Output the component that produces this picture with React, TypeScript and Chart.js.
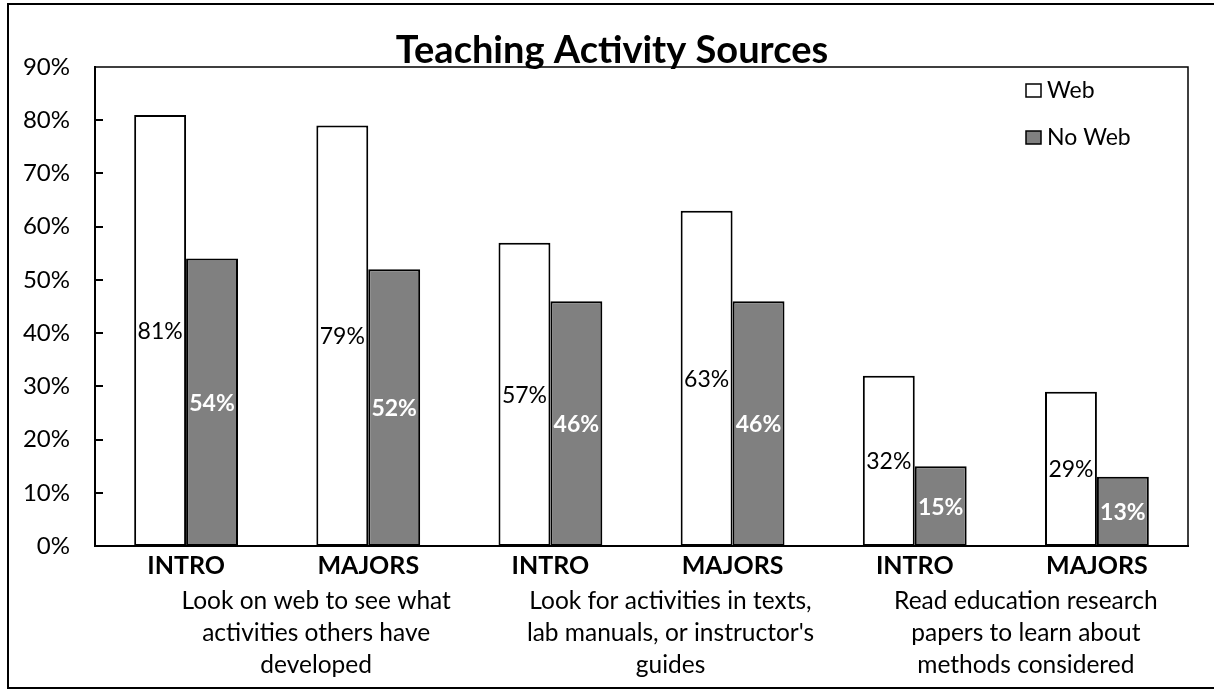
import React, { useEffect, useRef } from "react";
import { Chart, registerables } from "chart.js";

Chart.register(...registerables);

const TITLE = "Teaching Activity Sources";
const CATEGORIES = ["INTRO", "MAJORS", "INTRO", "MAJORS", "INTRO", "MAJORS"];
const SERIES_NAMES = ["Web", "No Web"];
const WEB = [81, 79, 57, 63, 32, 29];
const NO_WEB = [54, 52, 46, 46, 15, 13];
const GROUP_LABELS = [
  ["Look on web to see what", "activities others have", "developed"],
  ["Look for activities in texts,", "lab manuals, or instructor's", "guides"],
  ["Read education research", "papers to learn about", "methods considered"],
];
const Y_MIN = 0;
const Y_MAX = 90;
const Y_STEP = 10;

const FONT = "Lato, 'Open Sans', sans-serif";
const W = 1214;
const H = 690;
const GROUP_SHIFT = [39, 29, 20];

const decorPlugin = {
  id: "decor",
  beforeDraw(chart: any) {
    const ctx = chart.ctx;
    ctx.save();
    ctx.fillStyle = "#ffffff";
    ctx.fillRect(0, 0, chart.width, chart.height);
    ctx.strokeStyle = "#000";
    ctx.lineWidth = 2;
    ctx.strokeRect(8, 4, chart.width + 20, 684);
    ctx.restore();
  },
  afterDatasetsDraw(chart: any) {
    const ctx = chart.ctx;
    ctx.save();
    ctx.textAlign = "center";
    ctx.textBaseline = "middle";
    chart.data.datasets.forEach((ds: any, i: number) => {
      const meta = chart.getDatasetMeta(i);
      meta.data.forEach((bar: any, j: number) => {
        const v = ds.data[j];
        const cy = (bar.y + bar.base) / 2;
        if (i === 0) {
          ctx.fillStyle = "#000";
          ctx.font = `23px ${FONT}`;
        } else {
          ctx.fillStyle = "#fff";
          ctx.font = `bold 23px ${FONT}`;
        }
        ctx.fillText(`${v}%`, bar.x, cy + 1);
      });
    });
    ctx.restore();
  },
  afterDraw(chart: any) {
    const ctx = chart.ctx;
    const a = chart.chartArea;
    const ys = chart.scales.y;
    const xs = chart.scales.x;
    ctx.save();
    // plot border top & right
    ctx.strokeStyle = "#000";
    ctx.lineWidth = 1.5;
    ctx.beginPath();
    ctx.moveTo(a.left, a.top);
    ctx.lineTo(a.right, a.top);
    ctx.lineTo(a.right, a.bottom);
    ctx.stroke();
    // inner tick marks
    ctx.lineWidth = 2;
    for (let v = Y_MIN + Y_STEP; v < Y_MAX; v += Y_STEP) {
      const y = Math.round(ys.getPixelForValue(v));
      ctx.beginPath();
      ctx.moveTo(a.left, y);
      ctx.lineTo(a.left + 8, y);
      ctx.stroke();
    }
    // title
    ctx.fillStyle = "#000";
    ctx.font = `bold 38px ${FONT}`;
    ctx.textAlign = "center";
    ctx.textBaseline = "alphabetic";
    ctx.fillText(TITLE, 612, a.top - 4);
    // legend
    ctx.textAlign = "left";
    ctx.textBaseline = "middle";
    ctx.font = `23px ${FONT}`;
    chart.data.datasets.forEach((ds: any, i: number) => {
      const cy = a.top + 23 + i * 47;
      const bx = a.right - 162;
      ctx.fillStyle = ds.backgroundColor;
      ctx.fillRect(bx, cy - 6, 15, 13);
      ctx.strokeStyle = "#000";
      ctx.lineWidth = 1.5;
      ctx.strokeRect(bx, cy - 6, 15, 13);
      ctx.fillStyle = "#000";
      ctx.fillText(ds.label, bx + 21, cy + 1);
    });
    // group labels
    ctx.textAlign = "center";
    ctx.textBaseline = "alphabetic";
    ctx.font = `24.5px ${FONT}`;
    GROUP_LABELS.forEach((lines, g) => {
      const x0 = xs.getPixelForValue(g * 2);
      const x1 = xs.getPixelForValue(g * 2 + 1);
      const cx = (x0 + x1) / 2 + GROUP_SHIFT[g];
      lines.forEach((line, k) => {
        ctx.fillText(line, cx, a.bottom + 63 + k * 32);
      });
    });
    ctx.restore();
  },
};

export default function App() {
  const ref = useRef<HTMLCanvasElement | null>(null);
  useEffect(() => {
    if (!ref.current) return;
    const chart = new Chart(ref.current, {
      type: "bar",
      data: {
        labels: CATEGORIES,
        datasets: [
          {
            label: SERIES_NAMES[0],
            data: WEB,
            backgroundColor: "#ffffff",
            borderColor: "#000000",
            borderWidth: 2,
            borderSkipped: false,
            categoryPercentage: 0.57,
            barPercentage: 1,
          },
          {
            label: SERIES_NAMES[1],
            data: NO_WEB,
            backgroundColor: "#808080",
            borderColor: "#000000",
            borderWidth: 2,
            borderSkipped: false,
            categoryPercentage: 0.57,
            barPercentage: 1,
          },
        ],
      },
      options: {
        responsive: false,
        animation: false,
        devicePixelRatio: 1,
        layout: { padding: { top: 67, right: 26, left: 0, bottom: 0 } },
        plugins: {
          legend: { display: false },
          title: { display: false },
          tooltip: { enabled: false },
        },
        scales: {
          x: {
            grid: { display: false, drawTicks: false },
            border: { display: true, color: "#000", width: 2 },
            ticks: {
              color: "#000",
              font: { family: FONT, size: 25, weight: "bold" },
              padding: 5,
              maxRotation: 0,
              autoSkip: false,
            },
            afterFit(scale: any) {
              scale.height = 144;
            },
          },
          y: {
            min: Y_MIN,
            max: Y_MAX,
            grid: { display: false, drawTicks: false },
            border: { display: true, color: "#000", width: 2 },
            ticks: {
              stepSize: Y_STEP,
              color: "#000",
              font: { family: FONT, size: 24 },
              padding: 25,
              callback: (v: any) => `${v}%`,
            },
            afterFit(scale: any) {
              scale.width = 95;
            },
          },
        },
      },
      plugins: [decorPlugin],
    });
    return () => chart.destroy();
  }, []);
  return (
    <div style={{ position: "fixed", left: 0, top: 0, width: W, height: H, background: "#fff" }}>
      <canvas ref={ref} width={W} height={H} style={{ display: "block", width: W, height: H }} />
    </div>
  );
}
